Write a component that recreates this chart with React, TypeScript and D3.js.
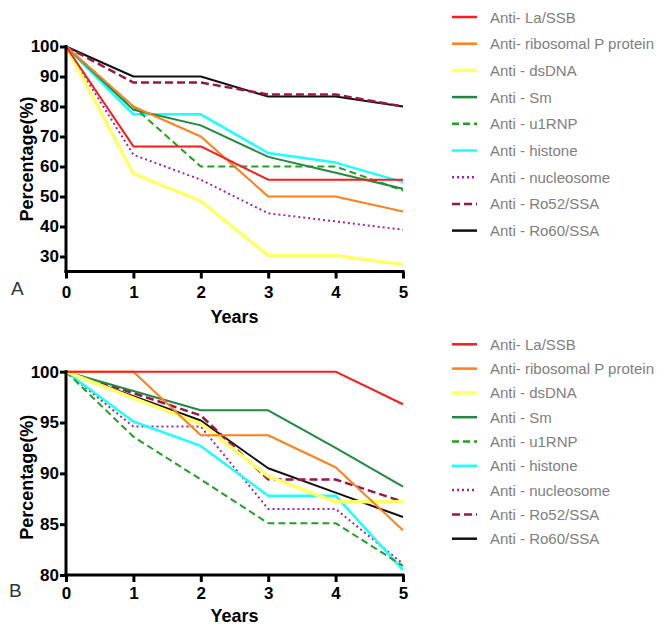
import React, {useEffect, useRef} from 'react'
import * as d3 from 'd3'

const width = 660
const height = 624
const font = '"Liberation Sans", Arial, sans-serif'

const years = [0, 1, 2, 3, 4, 5]

const seriesNames = [
  'Anti- La/SSB',
  'Anti- ribosomal P protein',
  'Anti - dsDNA',
  'Anti - Sm',
  'Anti - u1RNP',
  'Anti - histone',
  'Anti - nucleosome',
  'Anti - Ro52/SSA',
  'Anti - Ro60/SSA',
]
const seriesColors = ['#ff1a1a', '#ff8019', '#ffff66', '#1f8a3f', '#22a022', '#1affff', '#a821a8', '#9c1448', '#111111']
const seriesDash = ['', '', '', '', '7,4', '', '2,3', '8,4', '']
const seriesWidth = [2, 2, 3.5, 2, 2, 2.5, 2, 2.5, 2]

// panel A values (%)
const laA = [100, 66.7, 66.7, 55.6, 55.6, 55.6]
const riboA = [100, 80, 70, 50, 50, 45]
const dsdnaA = [100, 57.6, 48.5, 30.3, 30.3, 27.3]
const smA = [100, 78.9, 73.7, 63.2, 57.9, 52.6]
const u1rnpA = [100, 80, 60, 60, 60, 52]
const histoneA = [100, 77.4, 77.4, 64.5, 61.3, 54.8]
const nucleoA = [100, 63.9, 55.6, 44.4, 41.7, 38.9]
const ro52A = [100, 88, 88, 84, 84, 80]
const ro60A = [100, 90, 90, 83.3, 83.3, 80]

// panel B values (%)
const laB = [100, 100, 100, 100, 100, 96.8]
const riboB = [100, 100, 93.75, 93.75, 90.6, 84.4]
const dsdnaB = [100, 97.4, 94.9, 89.7, 87.2, 87.2]
const smB = [100, 98.1, 96.2, 96.2, 92.5, 88.7]
const u1rnpB = [100, 93.6, 89.4, 85.1, 85.1, 80.9]
const histoneB = [100, 95.1, 92.7, 87.8, 87.8, 80.5]
const nucleoB = [100, 94.6, 94.6, 86.5, 86.5, 81.1]
const ro52B = [100, 97.9, 95.7, 89.4, 89.4, 87.2]
const ro60B = [100, 97.6, 95.2, 90.5, 88.1, 85.7]

const yTicksA = [30, 40, 50, 60, 70, 80, 90, 100]
const yTicksB = [80, 85, 90, 95, 100]

const panels = [
  {
    label: 'A',
    series: [laA, riboA, dsdnaA, smA, u1rnpA, histoneA, nucleoA, ro52A, ro60A],
    yDomain: [25, 100],
    yRange: [271.5, 46.5],
    yTicks: yTicksA,
    legendTop: 17,
    legendStep: 26.7,
  },
  {
    label: 'B',
    series: [laB, riboB, dsdnaB, smB, u1rnpB, histoneB, nucleoB, ro52B, ro60B],
    yDomain: [80, 100],
    yRange: [575, 371.7],
    yTicks: yTicksB,
    legendTop: 344.3,
    legendStep: 24.3,
  },
]

const App = () => {
  const chartRef = useRef(null)

  useEffect(() => {
    const svg = d3.select(chartRef.current)
    svg.selectAll('*').remove()

    const x = d3.scaleLinear().domain([0, 5]).range([66, 403])

    panels.forEach(p => {
      const y = d3.scaleLinear().domain(p.yDomain).range(p.yRange)
      const g = svg.append('g')
      const axisY = p.yRange[0]

      const line = d3
        .line<number>()
        .x((d, i) => x(years[i]))
        .y(d => y(d))

      // first series drawn last, on top
      for (let k = p.series.length - 1; k >= 0; k--) {
        g.append('path')
          .datum(p.series[k])
          .attr('d', line)
          .attr('fill', 'none')
          .attr('stroke', seriesColors[k])
          .attr('stroke-width', seriesWidth[k])
          .attr('stroke-dasharray', seriesDash[k] || null)
          .attr('stroke-linejoin', 'round')
      }

      const xAxis = g
        .append('g')
        .attr('transform', `translate(0,${axisY})`)
        .call(d3.axisBottom(x).tickValues(years).tickFormat(d3.format('d')).tickSize(7).tickSizeOuter(0))
      const yAxis = g
        .append('g')
        .attr('transform', `translate(${x(0)},0)`)
        .call(d3.axisLeft(y).tickValues(p.yTicks).tickFormat(d3.format('d')).tickSize(6).tickSizeOuter(0).tickPadding(1))

      ;[xAxis, yAxis].forEach(a => {
        a.select('.domain').attr('stroke', '#000').attr('stroke-width', 3)
        a.selectAll('.tick line').attr('stroke', '#000').attr('stroke-width', 3)
        a.selectAll('.tick text')
          .attr('fill', '#000')
          .style('font-family', font)
          .style('font-size', '17px')
          .style('font-weight', 'bold')
      })
      xAxis.selectAll('.tick text').attr('dy', p.label === 'A' ? '0.95em' : '0.8em')
      yAxis.select('.domain').attr('d', `M0,${y(p.yDomain[1]) - 1.5}V${axisY + 1.5}`)
      xAxis.select('.domain').attr('d', `M${x(0) - 1.5},0H${x(5) + 1.5}`)

      g.append('text')
        .attr('transform', `translate(33,${(y(p.yDomain[1]) + axisY) / 2 + (p.label === 'A' ? 0 : 4)}) rotate(-90)`)
        .attr('text-anchor', 'middle')
        .style('font-family', font)
        .style('font-size', '18px')
        .style('font-weight', 'bold')
        .text('Percentage(%)')

      g.append('text')
        .attr('x', (x(0) + x(5)) / 2)
        .attr('y', p.label === 'A' ? 322.5 : 621.5)
        .attr('text-anchor', 'middle')
        .style('font-family', font)
        .style('font-size', '18px')
        .style('font-weight', 'bold')
        .text('Years')

      g.append('text')
        .attr('x', p.label === 'A' ? 11 : 9)
        .attr('y', p.label === 'A' ? 295 : 597)
        .style('font-family', font)
        .style('font-size', '19px')
        .attr('fill', '#333')
        .text(p.label)

      const legend = g.append('g')
      seriesNames.forEach((name, k) => {
        const ly = p.legendTop + k * p.legendStep
        legend
          .append('line')
          .attr('x1', 452)
          .attr('x2', 477)
          .attr('y1', ly)
          .attr('y2', ly)
          .attr('stroke', seriesColors[k])
          .attr('stroke-width', k === 2 ? 3.5 : 2.5)
          .attr('stroke-dasharray', seriesDash[k] || null)
        legend
          .append('text')
          .attr('x', 490)
          .attr('y', ly + 5.5)
          .attr('fill', '#808080')
          .style('font-family', font)
          .style('font-size', '15px')
          .text(name)
      })
    })
  }, [])

  return (
    <div style={{position: 'absolute', left: 0, top: 0}}>
      <svg ref={chartRef} width={width} height={height} style={{display: 'block', background: '#fff'}}></svg>
    </div>
  )
}

export default App
